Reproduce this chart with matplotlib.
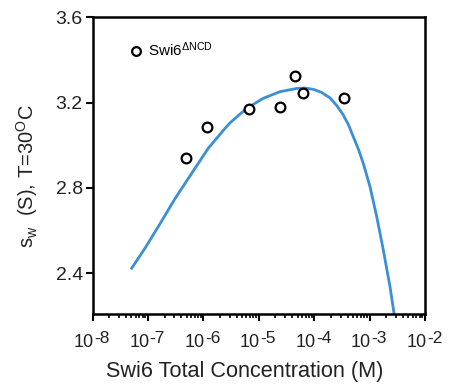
import numpy as np
import matplotlib
matplotlib.use("Agg")
import matplotlib.pyplot as plt
from matplotlib.ticker import LogLocator, FixedLocator, NullFormatter

plt.rcParams['font.family'] = ['Liberation Sans', 'DejaVu Sans']
plt.rcParams['mathtext.fontset'] = 'custom'
plt.rcParams['mathtext.rm'] = 'Liberation Sans'
plt.rcParams['mathtext.it'] = 'Liberation Sans'

# measured points (Swi6 dNCD)
conc = [4.9e-7, 1.15e-6, 6.8e-6, 2.4e-5, 4.5e-5, 6.4e-5, 3.5e-4]
sw = [2.939, 3.084, 3.171, 3.179, 3.324, 3.243, 3.220]

# fit curve (log10 conc, sw)
fit_logc = [-7.293, -7.053, -6.813, -6.511, -6.210, -5.911, -5.609, -5.519,
            -5.218, -4.918, -4.617, -4.315, -4.16, -4.016, -3.87, -3.715,
            -3.59, -3.475, -3.38, -3.294, -3.20, -3.114, -2.993, -2.872,
            -2.753, -2.632, -2.560]
fit_sw = [2.424, 2.518, 2.619, 2.750, 2.869, 2.986, 3.079, 3.105,
          3.173, 3.220, 3.251, 3.266, 3.268, 3.262, 3.248, 3.222,
          3.185, 3.142, 3.095, 3.040, 2.980, 2.915, 2.806, 2.666,
          2.510, 2.338, 2.214]

xtick_exp = [-8, -7, -6, -5, -4, -3, -2]
yticks = [2.4, 2.8, 3.2, 3.6]

fig = plt.figure(figsize=(4.58, 3.90), dpi=100)
ax = fig.add_axes([0.202, 0.195, 0.726, 0.761])

ax.plot(10 ** np.array(fit_logc), fit_sw, color='#3b8fd4', lw=2.0, zorder=2,
        solid_joinstyle='round')
ax.plot(conc, sw, 'o', ms=7, mfc='white', mec='black', mew=1.6, zorder=3,
        label='Swi6$^{\\mathrm{ΔNCD}}$')

ax.set_xscale('log')
ax.set_xlim(1e-8, 1e-2)
ax.set_ylim(2.21, 3.6)
ax.xaxis.set_major_locator(FixedLocator([10.0 ** e for e in xtick_exp]))
ax.set_xticklabels([])
ax.xaxis.set_minor_locator(LogLocator(base=10, subs=np.arange(2, 10), numticks=20))
ax.xaxis.set_minor_formatter(NullFormatter())
ax.set_yticks(yticks)
ax.set_yticklabels(['%.1f' % v for v in yticks])

for s in ax.spines.values():
    s.set_linewidth(1.8)
ax.tick_params(which='major', direction='out', length=5, width=1.5, labelsize=14,
               colors='black', labelcolor='#222222', pad=2)
ax.tick_params(which='minor', direction='out', length=3, width=1.2)

# x tick labels: "10" with a raised exponent of nearly the same size
xt = ax.get_xaxis_transform()
for e in xtick_exp:
    ax.annotate('10', xy=(10.0 ** e, 0), xycoords=xt, xytext=(1, -23.5),
                textcoords='offset points', ha='right', va='baseline',
                fontsize=13, color='#222222', annotation_clip=False)
    ax.annotate('-%d' % -e, xy=(10.0 ** e, 0), xycoords=xt, xytext=(1.3, -21),
                textcoords='offset points', ha='left', va='baseline',
                fontsize=12.5, color='#222222', annotation_clip=False)

fig.text(0.535, 13.5 / 390, 'Swi6 Total Concentration (M)', ha='center', va='baseline',
         fontsize=15.6, color='#222222')
fig.text(27 / 458, 0.549, 's$_{\\mathrm{w}}$  (S), T=30$^{\\mathrm{O}}$C', rotation=90,
         ha='center', va='center', fontsize=14.5, color='#222222')

ax.legend(loc='upper left', bbox_to_anchor=(0.088, 0.942), frameon=False, fontsize=11,
          handlelength=1.0, handletextpad=0.3, borderaxespad=0, markerscale=0.9)

fig.savefig('out.png', dpi=100)
